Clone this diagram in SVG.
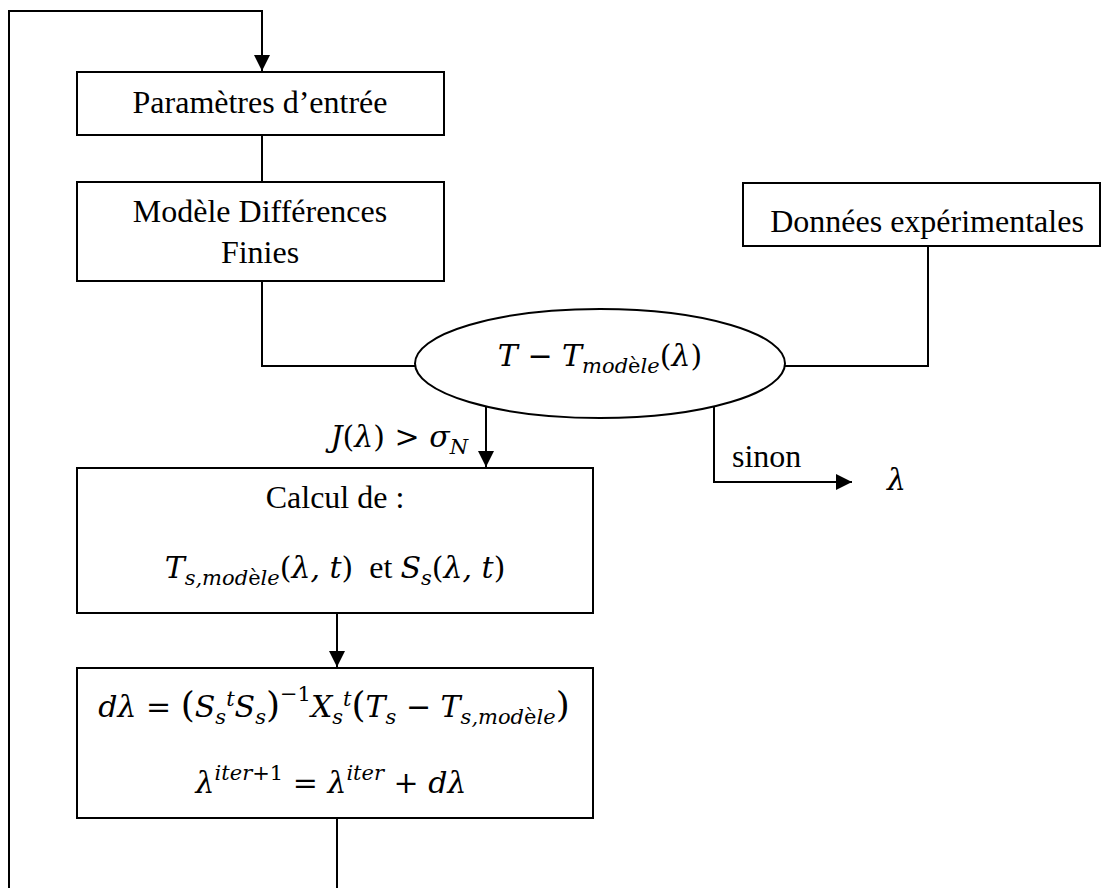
<svg xmlns="http://www.w3.org/2000/svg" width="1103" height="888" viewBox="0 0 1103 888">
<style>
.box{fill:#fff;stroke:#000;stroke-width:2}
.ln{fill:none;stroke:#000;stroke-width:2}
.t{font-family:"Liberation Serif","Times New Roman",serif;font-size:32px;fill:#000}
.m{font-family:"DejaVu Serif",serif;font-size:30px;font-style:italic;fill:#000}
.u{font-style:normal}
.s{font-size:21px}
.big{font-size:36px}
.rm{font-family:"Liberation Serif","Times New Roman",serif;font-size:32px;font-style:normal}
</style>
<defs>
<marker id="ah" markerUnits="userSpaceOnUse" markerWidth="16" markerHeight="18" refX="16" refY="8" orient="auto">
<path d="M0,0 L16,8 L0,16 Z" fill="#000"/>
</marker>
</defs>
<g id="connectors">
<polyline class="ln" points="9,888 9,11 262,11 262,71" marker-end="url(#ah)"/>
<line class="ln" x1="262" y1="135" x2="262" y2="182"/>
<polyline class="ln" points="262,281 262,366 415,366"/>
<polyline class="ln" points="785,366 928,366 928,246"/>
<line class="ln" x1="486" y1="407" x2="486" y2="467" marker-end="url(#ah)"/>
<polyline class="ln" points="714,407 714,482 852,482" marker-end="url(#ah)"/>
<line class="ln" x1="337" y1="613" x2="337" y2="667" marker-end="url(#ah)"/>
<line class="ln" x1="337" y1="818" x2="337" y2="888"/>
</g>
<g id="params">
<rect class="box" x="77" y="72" width="367" height="63"/>
<text class="t" x="260" y="113" text-anchor="middle">Paramètres d’entrée</text>
</g>
<g id="modele">
<rect class="box" x="77" y="182" width="367" height="99"/>
<text class="t" x="260" y="222" text-anchor="middle">Modèle Différences</text>
<text class="t" x="260" y="263" text-anchor="middle">Finies</text>
</g>
<g id="donnees">
<rect class="box" x="743" y="183" width="357" height="63"/>
<text class="t" x="927" y="232" text-anchor="middle">Données expérimentales</text>
</g>
<g id="ecart">
<ellipse class="box" cx="600" cy="363.5" rx="185" ry="54.5"/>
<text class="m" x="600" y="366" text-anchor="middle">T <tspan class="u">−</tspan> T<tspan class="s" dy="7">mod</tspan><tspan class="s u">è</tspan><tspan class="s">le</tspan><tspan class="u" dy="-7">(</tspan>λ<tspan class="u">)</tspan></text>
</g>
<g id="labels">
<text class="m" x="468" y="447" text-anchor="end">J<tspan class="u">(</tspan>λ<tspan class="u">) &gt; </tspan>σ<tspan class="s" dy="7">N</tspan></text>
<text class="t" x="732" y="467">sinon</text>
<text class="m" x="887" y="490">λ</text>
</g>
<g id="calcul">
<rect class="box" x="77" y="468" width="516" height="145"/>
<text class="t" x="335" y="508" text-anchor="middle">Calcul de :</text>
<text class="m" x="335" y="578" text-anchor="middle">T<tspan class="s" dy="7">s,mod</tspan><tspan class="s u">è</tspan><tspan class="s">le</tspan><tspan class="u" dy="-7">(</tspan>λ, t<tspan class="u">)</tspan><tspan class="rm">&#160; et </tspan>S<tspan class="s" dy="7">s</tspan><tspan class="u" dy="-7">(</tspan>λ, t<tspan class="u">)</tspan></text>
</g>
<g id="maj">
<rect class="box" x="77" y="668" width="516" height="150"/>
<text class="m" x="334" y="717" text-anchor="middle">dλ <tspan class="u">= </tspan><tspan class="u big">(</tspan>S<tspan class="s" dy="7">s</tspan><tspan class="s" dy="-18">t</tspan><tspan dy="11">S</tspan><tspan class="s" dy="7">s</tspan><tspan class="u big" dy="-7">)</tspan><tspan class="s u" dy="-16">−1</tspan><tspan dy="16">X</tspan><tspan class="s" dy="7">s</tspan><tspan class="s" dy="-18">t</tspan><tspan class="u big" dy="11">(</tspan>T<tspan class="s" dy="7">s</tspan><tspan dy="-7"> </tspan><tspan class="u">−</tspan> T<tspan class="s" dy="7">s,mod</tspan><tspan class="s u">è</tspan><tspan class="s">le</tspan><tspan class="u big" dy="-7">)</tspan></text>
<text class="m" x="331" y="793" text-anchor="middle">λ<tspan class="s" dy="-13">iter</tspan><tspan class="s u">+1</tspan><tspan class="u" dy="13"> = </tspan>λ<tspan class="s" dy="-13">iter</tspan><tspan class="u" dy="13"> + </tspan>dλ</text>
</g>
</svg>
